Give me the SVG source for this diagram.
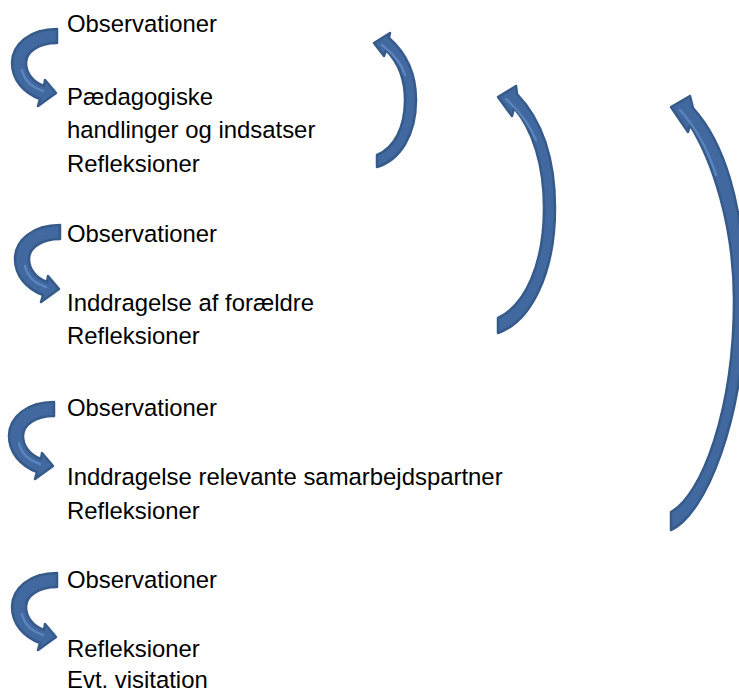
<svg xmlns="http://www.w3.org/2000/svg" xmlns:xlink="http://www.w3.org/1999/xlink" width="739" height="693" viewBox="0 0 739 693">
<style>
text{font-family:"Liberation Sans",Arial,sans-serif;font-size:23.9px;fill:#000}
.arr{fill:#41689f;stroke:#365a8a;stroke-width:2.5;stroke-linejoin:round}
.hl{fill:none;stroke:#6a98d2;stroke-width:2.5;stroke-linecap:round;opacity:0.6}
</style>
<defs>
<g id="la">
<path class="arr" d="M57,29 C30,29 12,44 12,63 C12,80 24,93 40,99 L38,106 L56,93 L45,80 L44,86 C33,82 26,73 26,63 C26,52 38,43 57,43 Z"/>
<path class="hl" d="M22,70 C24,80 31,87 43,91"/>
</g>
</defs>
<rect width="739" height="693" fill="#fff"/>
<g id="group1">
<text x="67" y="32">Observationer</text>
<text x="67" y="104.5">Pædagogiske</text>
<text x="67" y="138">handlinger og indsatser</text>
<text x="67" y="171.5">Refleksioner</text>
</g>
<g id="group2">
<text x="67" y="241.5">Observationer</text>
<text x="67" y="310.5">Inddragelse af forældre</text>
<text x="67" y="344">Refleksioner</text>
</g>
<g id="group3">
<text x="67" y="415.5">Observationer</text>
<text x="67" y="484.5">Inddragelse relevante samarbejdspartner</text>
<text x="67" y="518.5">Refleksioner</text>
</g>
<g id="group4">
<text x="67" y="587.5">Observationer</text>
<text x="67" y="656.5">Refleksioner</text>
<text x="67" y="688">Evt. visitation</text>
</g>
<g id="connectors">
<use xlink:href="#la" href="#la"/>
<use xlink:href="#la" href="#la" transform="translate(3,196)"/>
<use xlink:href="#la" href="#la" transform="translate(-3,373)"/>
<use xlink:href="#la" href="#la" transform="translate(0,544)"/>
<path class="arr" d="M377,167 C400,160 416,135 416,100 C416,72 405,52 389,38 L390,33 L374,43 L384,56 L386,50 C398,62 405,80 405,100 C405,128 394,148 377,155 Z"/>
<path class="hl" d="M382,45 C395,55 402,65 405,75"/>
<path class="arr" d="M498,333 C530,322 555,275 555,208 C555,155 540,118 517,94 L516,86 L498,97 L512,116 L514,108 C533,130 544,165 544,208 C544,265 525,305 498,318 Z"/>
<path class="hl" d="M506,99 C520,112 530,125 536,140"/>
<path class="arr" d="M671,530 C705,515 745,420 745,300 C745,200 722,140 693,108 L690,96 L671,107 L688,132 L690,125 C712,160 734,225 734,300 C734,410 702,495 671,512 Z"/>
<path class="hl" d="M680,110 C696,128 708,150 716,175"/>
</g>
</svg>
